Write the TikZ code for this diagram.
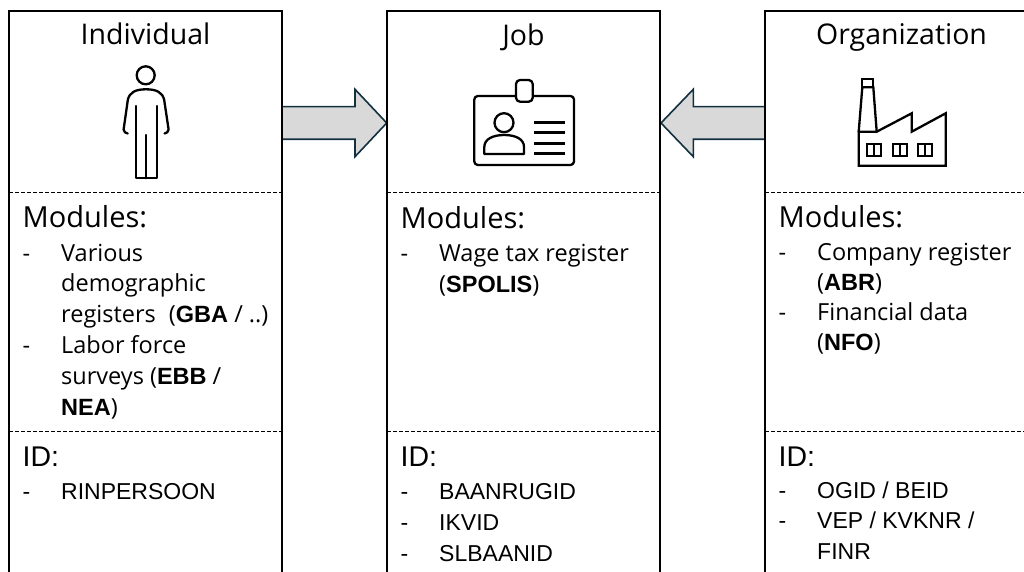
\documentclass[tikz,border=0pt]{standalone}
\usepackage{fontspec}
\setmainfont{Open Sans}
\newfontfamily\arialf{Liberation Sans}
\definecolor{arrowfill}{HTML}{D9D9D9}
\definecolor{arrowline}{HTML}{12303F}
\newcommand\bw[1]{{\arialf\bfseries #1}}
\begin{document}
\begin{tikzpicture}[x=1pt,y=-1pt,
 box/.style={line width=1.9pt, draw=black},
 sepline/.style={line width=1pt, dash pattern=on 4pt off 2pt},
 icon/.style={line width=2.3pt, line join=round, line cap=round},
 blockarrow/.style={fill=arrowfill, draw=arrowline, line width=1.6pt, line join=miter},
 txt/.style={inner sep=0pt, anchor=base west},
 ttl/.style={inner sep=0pt, anchor=base, font=\fontsize{28.5}{30}\selectfont},
 hd/.style={txt, font=\fontsize{29}{30}\selectfont},
 it/.style={txt, font=\fontsize{23.5}{26}\selectfont},
 idhd/.style={txt, font=\arialf\fontsize{28.5}{30}\selectfont},
 iditem/.style={txt, font=\arialf\fontsize{23}{26}\selectfont},
]
\useasboundingbox (0,0) rectangle (1024,572);
\clip (0,0) rectangle (1024,572);
\def\L{9}\def\M{387}\def\R{765}\def\W{273}

% block arrows
\coordinate (a1s) at (282,123);
\coordinate (a1t) at (386.7,123);
\draw[blockarrow] (282,106.7) -- (355,106.7) -- (355,89.3) -- (a1t) -- (355,156.7) -- (355,139.3) -- (282,139.3) -- cycle;
\coordinate (a2s) at (765,123);
\coordinate (a2t) at (661,123);
\draw[blockarrow] (765,106.7) -- (693.3,106.7) -- (693.3,89.3) -- (a2t) -- (693.3,156.7) -- (693.3,139.3) -- (765,139.3) -- cycle;

% boxes
\foreach \x/\n in {\L/bl,\M/bm,\R/br}{
  \draw[box] (\x,10.7) rectangle ({\x+\W},600);
  \draw[sepline] (\x,192.7) -- ({\x+\W},192.7);
  \draw[sepline] (\x,431.2) -- ({\x+\W},431.2);
}

% titles
\node[ttl] (t1) at ({\L+\W/2},45) {Individual};
\node[ttl] (t2) at ({\M+\W/2},45.5) {Job};
\node[ttl] (t3) at ({\R+\W/2},45) {Organization};

% person icon
\draw[icon] (145.7,75.3) circle (9);
\draw[icon] (127.7,133.5) to[out=180,in=-80] (123.6,129.5) -- (127.8,100) .. controls (129.5,92) and (136,89.3) .. (146,89.3) .. controls (156,89.3) and (162.5,92) .. (164.2,100) -- (168.6,129.5) to[out=-100,in=0] (164.5,133.5);
\draw[icon] (136,106) -- (136,178.3) -- (156.7,178.3) -- (156.7,106);
\draw[icon] (146.3,135) -- (146.3,178.3);

% badge icon
\draw[icon, rounded corners=3.5] (474.3,96) rectangle (574,165);
\draw[icon, fill=white, rounded corners=4] (516,80) rectangle (532.7,101.7);
\draw[icon] (504,122.7) circle (9.5);
\draw[icon] (484.3,154) -- (484.3,147) .. controls (484.3,139) and (493,135) .. (504.2,135) .. controls (515.5,135) and (524,139) .. (524,147) -- (524,154) -- cycle;
\foreach \yy in {122.3,132.7,143.3,153.3}{
  \draw[line width=2.6pt] (534,\yy) -- (565,\yy);
}

% factory icon
\draw[icon, line join=miter] (876.7,131.7) -- (911.7,113.3) -- (911.7,131.7) -- (945.7,113.3) -- (945.7,165.7) -- (858.7,165.7) -- (858.7,131.7) -- cycle;
\draw[icon, line join=miter] (858.7,131.7) -- (862.3,87.3) -- (873.3,87.3) -- (876.7,131.7);
\draw[icon, line join=miter] (862.3,79) rectangle (873.3,87.3);
\foreach \wx in {867,892.5,918}{
  \draw[line width=2pt] (\wx,144.3) rectangle ({\wx+14},156);
  \draw[line width=2pt] ({\wx+7},144.3) -- ({\wx+7},156);
}

% modules texts: left
\node[hd] (ml) at ({\L+13.5},227.5) {Modules:};
\node[it] (ml1d) at ({\L+13.5},261) {-};
\node[it] (ml1a) at ({\L+52},261) {Various};
\node[it] (ml1b) at ({\L+52},291.8) {demographic};
\node[it] (ml1c) at ({\L+52},322.6) {registers\hspace{0.3em} (\bw{GBA} / ..)};
\node[it] (ml2d) at ({\L+13.5},353.4) {-};
\node[it] (ml2a) at ({\L+52},353.4) {Labor force};
\node[it] (ml2b) at ({\L+52},384.2) {surveys (\bw{EBB} /};
\node[it] (ml2c) at ({\L+52},415) {\bw{NEA})};

% modules: middle
\node[hd] (mm) at ({\M+13.5},228) {Modules:};
\node[it] (mm1d) at ({\M+13.5},261.5) {-};
\node[it] (mm1a) at ({\M+52},261.5) {Wage tax register};
\node[it] (mm1b) at ({\M+52},292) {(\bw{SPOLIS})};

% modules: right
\node[hd] (mr) at ({\R+13.5},227) {Modules:};
\node[it] (mr1d) at ({\R+13.5},260.5) {-};
\node[it] (mr1a) at ({\R+52},260.5) {Company register};
\node[it] (mr1b) at ({\R+52},290.5) {(\bw{ABR})};
\node[it] (mr2d) at ({\R+13.5},320) {-};
\node[it] (mr2a) at ({\R+52},320) {Financial data};
\node[it] (mr2b) at ({\R+52},350.5) {(\bw{NFO})};

% ID texts
\node[idhd] (il) at ({\L+13.5},466.5) {ID:};
\node[iditem] (il1d) at ({\L+13.5},499.3) {-};
\node[iditem] (il1) at ({\L+52},499.3) {RINPERSOON};

\node[idhd] (im) at ({\M+13.5},466) {ID:};
\node[iditem] (im1d) at ({\M+13.5},499.3) {-};
\node[iditem] (im1) at ({\M+52},499.3) {BAANRUGID};
\node[iditem] (im2d) at ({\M+13.5},530.5) {-};
\node[iditem] (im2) at ({\M+52},530.5) {IKVID};
\node[iditem] (im3d) at ({\M+13.5},561.5) {-};
\node[iditem] (im3) at ({\M+52},561.5) {SLBAANID};

\node[idhd] (ir) at ({\R+13.5},466) {ID:};
\node[iditem] (ir1d) at ({\R+13.5},498.3) {-};
\node[iditem] (ir1) at ({\R+52},498.3) {OGID / BEID};
\node[iditem] (ir2d) at ({\R+13.5},528.5) {-};
\node[iditem] (ir2) at ({\R+52},528.5) {VEP / KVKNR /};
\node[iditem] (ir3) at ({\R+52},559.3) {FINR};
\end{tikzpicture}
\end{document}
